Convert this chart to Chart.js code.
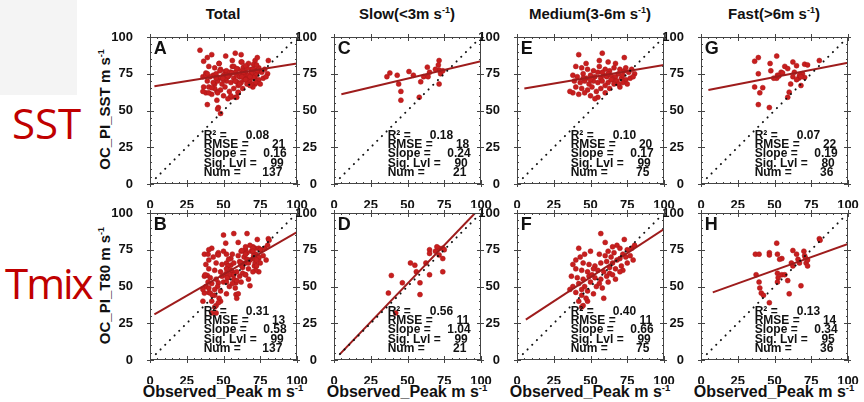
<!DOCTYPE html>
<html>
<head>
<meta charset="utf-8">
<script src="https://cdn.jsdelivr.net/npm/chart.js@4.4.1/dist/chart.umd.min.js"></script>
<style>
  body { margin: 0; background: #fff; width: 864px; height: 402px; position: relative; overflow: hidden; font-family: 'Liberation Sans', Arial, sans-serif; }
  canvas { position: absolute; }
  .lbl { position: absolute; white-space: nowrap; color: #111; }
  .title { font: bold 15px 'Liberation Sans Narrow', 'Liberation Sans', sans-serif; width: 200px; text-align: center; top: 5px; }
  .xt { font: bold 16px 'Liberation Sans', sans-serif; width: 200px; text-align: center; top: 383px; }
  .yt { font: bold 15px 'Liberation Sans', sans-serif; width: 200px; text-align: center; transform: rotate(-90deg); }
  .big { font: 42px 'Open Sans', 'Noto Sans', sans-serif; color: #c00000; line-height: 1; }
  sup { font-size: 60%; line-height: 0; }
</style>
</head>
<body>
<div style="position:absolute;left:0;top:0;width:77px;height:95px;background:#f4f4f4"></div>
<div class="lbl big" style="left:12px;top:102px">SST</div>
<div class="lbl big" style="left:5px;top:262px;letter-spacing:-2px">Tmix</div>

<div class="lbl title" style="left:123px">Total</div>
<div class="lbl title" style="left:307px">Slow(&lt;3m s<sup>-1</sup>)</div>
<div class="lbl title" style="left:490px">Medium(3-6m s<sup>-1</sup>)</div>
<div class="lbl title" style="left:674px">Fast(&gt;6m s<sup>-1</sup>)</div>

<div class="lbl yt" style="left:4px;top:101px">OC_PI_SST m s<sup>-1</sup></div>
<div class="lbl yt" style="left:4px;top:277px">OC_PI_T80 m s<sup>-1</sup></div>

<div class="lbl xt" style="left:123px">Observed_Peak m s<sup>-1</sup></div>
<div class="lbl xt" style="left:307px">Observed_Peak m s<sup>-1</sup></div>
<div class="lbl xt" style="left:490px">Observed_Peak m s<sup>-1</sup></div>
<div class="lbl xt" style="left:674px">Observed_Peak m s<sup>-1</sup></div>

<script>
const slowSST = [[36,73],[38,75.5],[43,74],[44,68],[45.5,63],[45.5,57],[51,76.5],[54,74],[59,69.5],[58,59],
  [61,73],[63.5,79.5],[65,76],[71.5,84],[71,81],[71.5,77.5],[72.5,75],[71.5,68],[64,73],[69,78],[74,77]];
const medSST = [[42,88],[58,89],[73,86],[56,84],[62,83],[67,82],[40,80],[44,79],[48,78],[52,77],
  [55,76],[60,78],[63,77],[66,79],[70,78],[73,77],[76,76],[78,78],[80,75],[38,74],
  [41,73],[45,75],[47,72],[50,74],[53,73],[57,72],[59,74],[61,73],[64,74],[67,73],
  [69,75],[71,72],[74,71],[77,72],[79,73],[39,70],[43,69],[46,70],[49,68],[52,70],
  [55,69],[58,70],[62,69],[65,71],[68,70],[72,69],[75,68],[40,66],[44,65],[48,64],
  [51,66],[54,63],[57,65],[60,67],[63,65],[70,66],[38,62],[42,61],[46,62],[50,60],
  [55,59],[53,58],[36,63],[60,62],[66,68],[72,74],[62,75],[58,76],[64,71],[69,68],
  [45,72],[50,71],[56,80],[47,82],[74,79]];
const fastSST = [[36.5,83.5],[39,86],[39,75],[36.5,66],[40,62],[39,54],[42,65.5],[46.5,52],[47,82],[47.5,77],
  [51.5,87],[52,74],[51.5,72],[54.5,76],[57,80],[59,78.5],[60,62.5],[59,59],[62.5,83],[63.5,76],
  [65,80.5],[66.5,72],[68,67],[69,75],[70.5,81.5],[70.5,72.5],[72.5,81],[80.5,84],[67,74],[68,73],
  [53,73.5],[55.5,75.5],[62.5,73],[65,71],[61,68],[49.5,72]];
const extraSST = [[34,91],[46,51],[48,48],[55,60],[62,88]];

const slowT80 = [[37,45.5],[39,57.5],[46.5,52.5],[52,66],[55,64.5],[62.5,66],[65,75],[65,72.5],[65,58],[58.5,52.5],
  [58.5,44.5],[71.5,76],[74,76],[71.5,71.5],[74,69],[74,60],[75,75],[69,74],[42,32],[70,77],[56,60]];
const medT80 = [[57,86],[42,76],[73,82],[60,80],[68,78],[65,77],[70,76],[75,75],[78,76],[80,78],
  [62,74],[66,73],[72,72],[74,70],[77,71],[70,69],[68,68],[64,70],[60,71],[56,72],
  [50,74],[46,72],[43,70],[40,68],[38,65],[45,66],[49,65],[53,64],[57,66],[61,67],
  [65,66],[71,64],[75,66],[79,68],[40,62],[44,61],[48,60],[52,62],[55,61],[59,60],
  [63,59],[67,62],[72,61],[37,57],[41,56],[45,55],[49,57],[53,56],[57,55],[61,57],
  [65,58],[70,60],[38,50],[42,52],[46,50],[50,53],[54,50],[58,49],[62,53],[67,55],
  [36,48],[40,46],[44,48],[48,47],[52,45],[42,40],[45,37],[48,40],[44,36],[59,42],
  [44,44],[47,42],[56,52],[51,58],[63,63]];
const fastT80 = [[37,72],[39.5,72],[46.5,73],[46.5,71.5],[51.5,79.5],[52,72],[55,69],[37.5,58],[39.5,53],[40,49],
  [41,45.5],[42.5,44],[46.5,39],[52,59],[52.5,56],[52,53],[55,58],[57,58],[59,54],[60,45],
  [61.5,66],[62.5,74.5],[65,72],[66,68.5],[67,66],[68,50.5],[70,74],[70.5,71],[71.5,66],[71,69.5],
  [72.5,68],[80.5,82.5],[81,81.5],[53.5,68.5],[62.5,64],[72.5,64]];
const extraT80 = [[45,32],[36,40],[50,85],[66,86],[40,75]];

// total = all speed classes together
const totalSST = slowSST.concat(medSST, fastSST, extraSST);
const totalT80 = slowT80.concat(medT80, fastT80, extraT80);

// regression line ends [x, y]
const regA = [[3,66.5],[100,82]];
const regC = [[5,61],[100,83.5]];
const regE = [[5,65],[100,81]];
const regG = [[5,64],[100,82.5]];
const regB = [[3,31],[100,87]];
const regD = [[4,4],[96,100]];
const regF = [[6,27.5],[100,89]];
const regH = [[8,46],[100,79]];
const oneToOne = [[4,4],[98,98]];

const statNames = ['R\u00b2 =', 'RMSE =', 'Slope =', 'Sig. Lvl =', 'Num ='];
const statsA = ['0.08', '21', '0.16', '99', '137'];
const statsC = ['0.18', '18', '0.24', '90', '21'];
const statsE = ['0.10', '20', '0.17', '99', '75'];
const statsG = ['0.07', '22', '0.19', '80', '36'];
const statsB = ['0.31', '13', '0.58', '99', '137'];
const statsD = ['0.56', '11', '1.04', '99', '21'];
const statsF = ['0.40', '11', '0.66', '99', '75'];
const statsH = ['0.13', '14', '0.34', '95', '36'];
const tickVals = [0, 25, 50, 75, 100];

const colLeft = [150, 334, 517, 701];
const rowTop = [37, 213];
const W = 147, H = 147;

const panels = [
  { letter: 'A', col: 0, row: 0, pts: totalSST, reg: regA, stats: statsA },
  { letter: 'C', col: 1, row: 0, pts: slowSST, reg: regC, stats: statsC },
  { letter: 'E', col: 2, row: 0, pts: medSST, reg: regE, stats: statsE },
  { letter: 'G', col: 3, row: 0, pts: fastSST, reg: regG, stats: statsG },
  { letter: 'B', col: 0, row: 1, pts: totalT80, reg: regB, stats: statsB },
  { letter: 'D', col: 1, row: 1, pts: slowT80, reg: regD, stats: statsD },
  { letter: 'F', col: 2, row: 1, pts: medT80, reg: regF, stats: statsF },
  { letter: 'H', col: 3, row: 1, pts: fastT80, reg: regH, stats: statsH }
];

const toXY = arr => arr.map(p => ({ x: p[0], y: p[1] }));

const frame = {
  id: 'frame',
  afterDraw(chart, args, opts) {
    const { ctx, chartArea: a, scales: { x, y } } = chart;
    ctx.save();
    ctx.strokeStyle = '#444';
    ctx.lineWidth = 1;
    ctx.strokeRect(Math.round(a.left) + 0.5, Math.round(a.top) + 0.5, Math.round(a.width) - 1, Math.round(a.height) - 1);
    ctx.beginPath();
    for (let v = 0; v <= 100; v += 5) {
      const major = v % 25 === 0;
      const inn = major ? 4 : 2, out = major ? 3 : 0;
      const px = Math.round(x.getPixelForValue(v)) + 0.5;
      const py = Math.round(y.getPixelForValue(v)) + 0.5;
      ctx.moveTo(px, a.bottom + out); ctx.lineTo(px, a.bottom - inn);
      ctx.moveTo(px, a.top - out); ctx.lineTo(px, a.top + inn);
      ctx.moveTo(a.left - out, py); ctx.lineTo(a.left + inn, py);
      ctx.moveTo(a.right + out, py); ctx.lineTo(a.right - inn, py);
    }
    ctx.stroke();

    ctx.fillStyle = '#111';
    ctx.font = 'bold 18px "Liberation Sans", sans-serif';
    ctx.textBaseline = 'middle';
    ctx.textAlign = 'left';
    ctx.fillText(opts.letter, x.getPixelForValue(2.5), y.getPixelForValue(92));

    ctx.font = 'bold 12px "Liberation Sans Narrow", "Liberation Sans", sans-serif';
    const rows = [33, 26.5, 20.3, 14, 7.6];
    const valRight = [81, 92, 93, 91, 90];
    statNames.forEach((n, i) => {
      const py = y.getPixelForValue(rows[i]);
      ctx.textAlign = 'left';
      ctx.fillText(n, x.getPixelForValue(36.5), py);
      ctx.textAlign = 'right';
      ctx.fillText(opts.stats[i], x.getPixelForValue(valRight[i]), py);
    });
    ctx.restore();
  }
};

panels.forEach(p => {
  const cv = document.createElement('canvas');
  const padL = 44, padT = 10, padR = 16, padB = 24;
  cv.width = padL + W + padR;
  cv.height = padT + H + padB;
  cv.style.left = (colLeft[p.col] - padL) + 'px';
  cv.style.top = (rowTop[p.row] - padT) + 'px';
  document.body.appendChild(cv);

  const noPad = s => { s.paddingLeft = 0; s.paddingRight = 0; s.paddingTop = 0; s.paddingBottom = 0; };
  const axisCommon = {
    type: 'linear', min: 0, max: 100,
    grid: { display: false },
    border: { display: false },
    afterBuildTicks: s => { s.ticks = tickVals.map(v => ({ value: v })); }
  };

  new Chart(cv.getContext('2d'), {
    type: 'scatter',
    data: {
      datasets: [
        { data: toXY(oneToOne), showLine: true, pointRadius: 0, borderColor: '#111', borderWidth: 2,
          borderDash: [0.1, 6.5], borderCapStyle: 'round', order: 0 },
        { data: toXY(p.reg), showLine: true, pointRadius: 0, borderColor: '#9e1c1c', borderWidth: 2, order: 1 },
        { data: toXY(p.pts), pointRadius: 2.5, pointBackgroundColor: '#c81e1e', pointBorderColor: '#a81818',
          pointBorderWidth: 0.5, order: 2 }
      ]
    },
    options: {
      responsive: false,
      animation: false,
      layout: { padding: { left: 0, top: padT, right: padR, bottom: 0 } },
      plugins: { legend: { display: false }, tooltip: { enabled: false }, frame: { letter: p.letter, stats: p.stats } },
      scales: {
        x: Object.assign({}, axisCommon, {
          ticks: { font: { size: 13, weight: 'bold', family: 'Liberation Sans' }, color: '#111', padding: 6, maxRotation: 0 },
          afterFit: s => { s.height = padB; noPad(s); }
        }),
        y: Object.assign({}, axisCommon, {
          ticks: { font: { size: 13, weight: 'bold', family: 'Liberation Sans' }, color: '#111', padding: 9 },
          afterFit: s => { s.width = padL; noPad(s); }
        })
      }
    },
    plugins: [frame]
  });
});
</script>
</body>
</html>
